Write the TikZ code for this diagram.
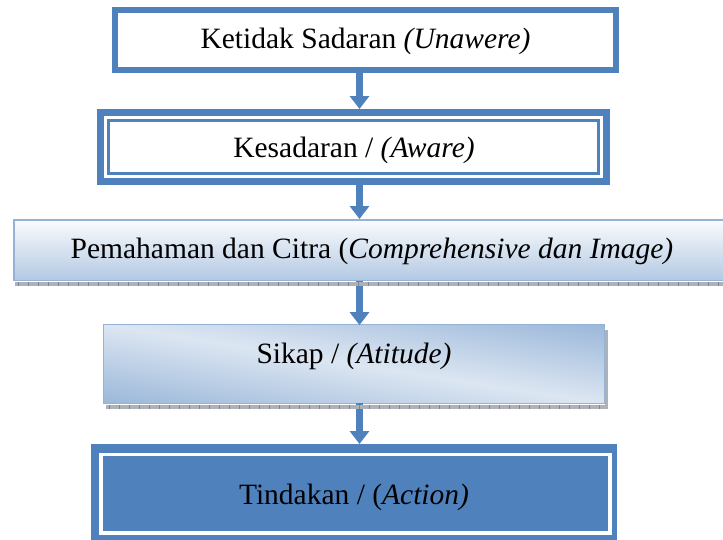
\documentclass[tikz,border=0pt]{standalone}
\usepackage{fontspec}
\setmainfont{Liberation Serif}
\usetikzlibrary{arrows.meta}
\definecolor{blu}{HTML}{4F81BD}
\definecolor{lblu}{HTML}{95B3D7}
\definecolor{pblu}{HTML}{B3C9E3}
\definecolor{vlblu}{HTML}{DCE6F2}
\definecolor{shd}{HTML}{AEB2B8}
\definecolor{shdk}{HTML}{7F858C}
\begin{document}
\begin{tikzpicture}[x=1pt,y=-1pt,
  lbl/.style={font=\fontsize{29.5}{34}\selectfont, inner sep=0pt, text=black},
  arr/.style={draw=blu, line width=7pt, -{Triangle[width=19pt,length=13pt]}},
  shadowbar/.style={fill=shd},
  ticks/.style={draw=shdk, dash pattern=on 1pt off 9pt}]
\useasboundingbox (0,0) rectangle (723,539);
\coordinate (ax) at (359.5,0);

% boxes (outlines / fills)
\node[draw=blu, line width=6pt, fill=white, minimum width=501pt, minimum height=60pt, inner sep=0pt] (b1) at (365.5,40) {};
\node[draw=blu, line width=7pt, fill=white, minimum width=506pt, minimum height=69pt, inner sep=0pt] (b2) at (353.5,147) {};
\node[draw=lblu, line width=1.5pt, top color=white!85!vlblu, bottom color=pblu, minimum width=716.5pt, minimum height=60.5pt, inner sep=0pt] (b3) at (372,250) {};
\node[minimum width=501pt, minimum height=79pt, inner sep=0pt, outer sep=0pt] (b4) at (354,364) {};
\begin{scope}
  \clip (b4.south west) rectangle (b4.north east);
  \begin{scope}[transform canvas={rotate around={-9:(b4.center)}}]
    \shade[top color=lblu, bottom color=lblu, middle color=vlblu] (24,279) rectangle (684,449);
  \end{scope}
\end{scope}
\draw[lblu, line width=1.2pt] (b4.south west) rectangle (b4.north east);
\node[fill=blu, minimum width=526pt, minimum height=97pt, inner sep=0pt, outer sep=0pt] (b5) at (354,492.5) {};

% arrows
\draw[arr] (b1.south -| ax) -- (b2.north -| ax);
\draw[arr] (b2.south -| ax) -- (b3.north -| ax);
\draw[arr] (b3.south -| ax) -- ([yshift=-0.6pt]b4.north -| ax);
\draw[arr] ([yshift=0.6pt]b4.south -| ax) -- (b5.north -| ax);

% decorations
\draw[blu, line width=2.5pt] (108.5,120.5) rectangle (598.5,173.5);
\fill[shadowbar] (15,281.8) rectangle (730,285.5);
\draw[ticks, line width=3.7pt] (18,283.65) -- (730,283.65);
\fill[shadowbar] (106,404.6) rectangle (608,409);
\draw[ticks, line width=4.4pt] (109,406.8) -- (605,406.8);
\fill[shadowbar] (604.6,330) rectangle (608,409);
\draw[white, line width=3.5pt] (101,454.5) rectangle (610,533);

% labels
\node[lbl] (t1) at (365.5,41.5) {Ketidak Sadaran \textit{(Unawere)}};
\node[lbl] (t2) at (354,150) {Kesadaran / \textit{(Aware)}};
\node[lbl] (t3) at (372,251.5) {Pemahaman dan Citra (\textit{Comprehensive dan Image)}};
\node[lbl] (t4) at (354,356) {Sikap / \textit{(Atitude)}};
\node[lbl] (t5) at (354,497) {Tindakan / (\textit{Action)}};
\end{tikzpicture}
\end{document}
